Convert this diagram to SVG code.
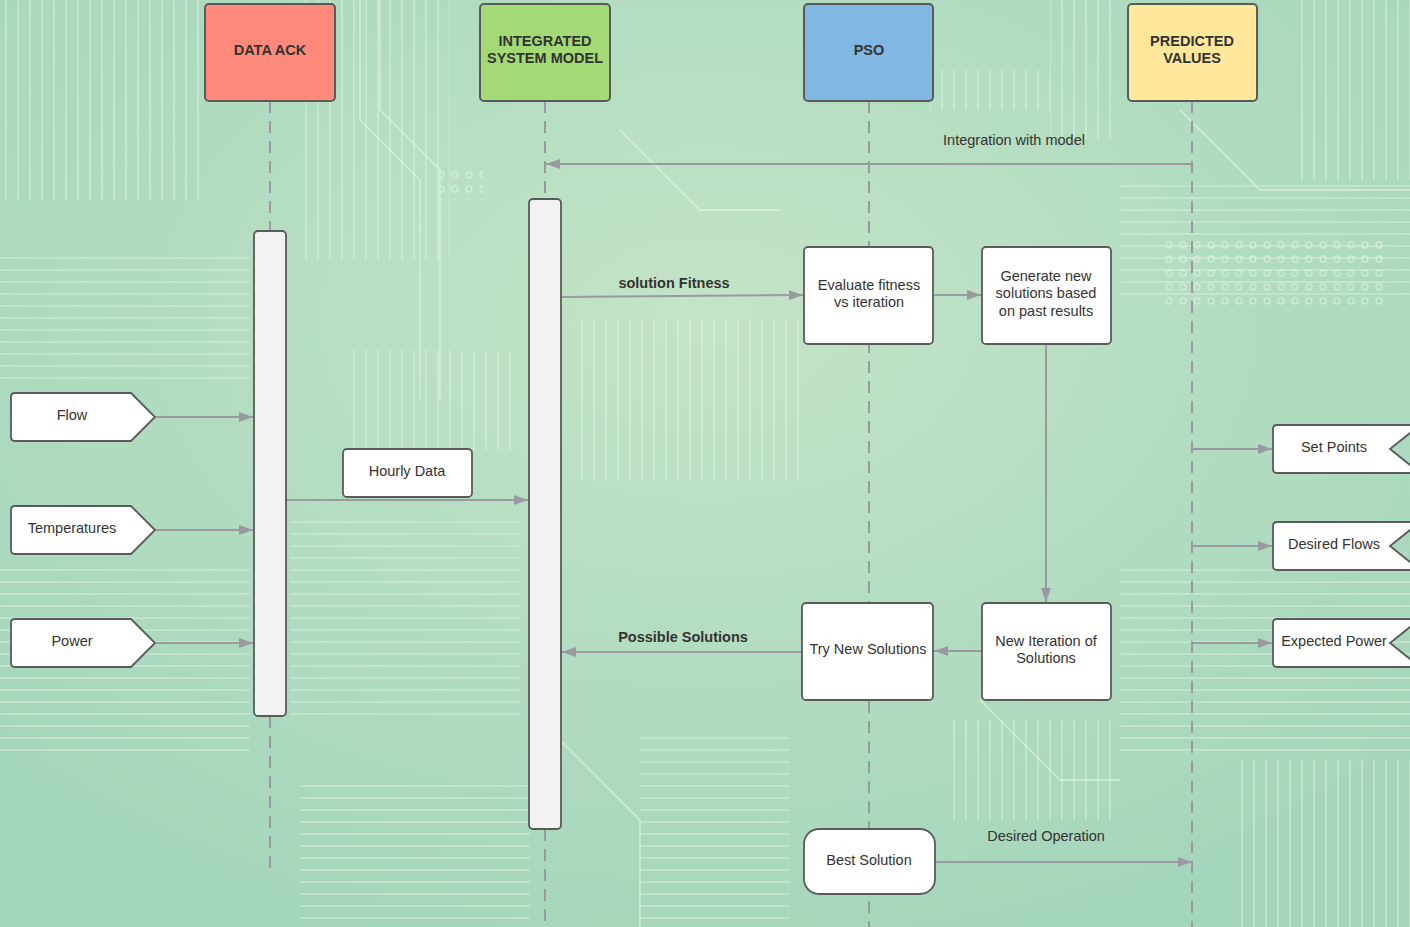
<svg xmlns="http://www.w3.org/2000/svg" width="1410" height="927" viewBox="0 0 1410 927">
<defs>
<radialGradient id="bg" cx="0.5" cy="0.35" r="0.75">
<stop offset="0" stop-color="#c4e4c6"/>
<stop offset="0.5" stop-color="#b2dcc0"/>
<stop offset="1" stop-color="#a2d5ba"/>
</radialGradient>
<pattern id="vtr" width="12" height="200" patternUnits="userSpaceOnUse">
<line x1="6" y1="0" x2="6" y2="200" stroke="#e4f4e2" stroke-width="1.6" opacity="0.55"/>
</pattern>
<pattern id="htr" width="200" height="12" patternUnits="userSpaceOnUse">
<line x1="0" y1="6" x2="200" y2="6" stroke="#e4f4e2" stroke-width="1.6" opacity="0.5"/>
</pattern>
<pattern id="dots" width="14" height="14" patternUnits="userSpaceOnUse">
<circle cx="7" cy="7" r="3" fill="none" stroke="#e6f5e4" stroke-width="1.4" opacity="0.6"/>
</pattern>
<marker id="ah" viewBox="0 0 14 10" refX="14" refY="5" markerWidth="14" markerHeight="10" markerUnits="userSpaceOnUse" orient="auto">
<path d="M0,0 L14,5 L0,10 Z" fill="#999aa0"/>
</marker>
<style>
.t{font-family:"Liberation Sans",Arial,sans-serif;font-size:14.5px;fill:#333;text-anchor:middle}
.h{font-family:"Liberation Sans",Arial,sans-serif;font-size:14.5px;font-weight:bold;fill:#333;text-anchor:middle}
.box{stroke:#5a5a5a;stroke-width:2}
.wb{fill:#fff;stroke:#5a5a5a;stroke-width:1.8}
.act{fill:#f2f2f2;stroke:#5a5a5a;stroke-width:1.8}
.life{stroke:#999aa0;stroke-width:2;stroke-dasharray:12 8;fill:none}
.msg{stroke:#999aa0;stroke-width:2;fill:none;marker-end:url(#ah)}
.bgl{stroke:#e2f3e0;stroke-width:1.8;fill:none;opacity:0.6}
</style>
</defs>

<g id="background">
<rect width="1410" height="927" fill="url(#bg)"/>
<rect x="0" y="0" width="200" height="200" fill="url(#vtr)"/>
<rect x="300" y="0" width="150" height="260" fill="url(#vtr)"/>
<rect x="930" y="70" width="120" height="40" fill="url(#vtr)"/>
<rect x="1050" y="0" width="70" height="140" fill="url(#vtr)"/>
<rect x="1300" y="0" width="110" height="180" fill="url(#vtr)"/>
<rect x="580" y="320" width="220" height="160" fill="url(#vtr)"/>
<rect x="350" y="350" width="170" height="100" fill="url(#vtr)"/>
<rect x="0" y="250" width="250" height="130" fill="url(#htr)"/>
<rect x="290" y="520" width="230" height="200" fill="url(#htr)"/>
<rect x="0" y="560" width="250" height="200" fill="url(#htr)"/>
<rect x="1120" y="560" width="290" height="200" fill="url(#htr)"/>
<rect x="1120" y="180" width="290" height="120" fill="url(#htr)"/>
<rect x="1160" y="240" width="230" height="70" fill="url(#dots)"/>
<rect x="440" y="170" width="44" height="30" fill="url(#dots)"/>
<rect x="640" y="730" width="150" height="197" fill="url(#htr)"/>
<rect x="950" y="720" width="170" height="100" fill="url(#vtr)"/>
<rect x="300" y="780" width="230" height="147" fill="url(#htr)"/>
<rect x="1240" y="760" width="170" height="167" fill="url(#vtr)"/>
<path class="bgl" d="M360,0 V120 L420,180 V400 M380,0 V110 L440,170 V400 M620,130 L700,210 H780 M1180,110 L1260,190 H1410 M560,740 L640,820 V927 M980,700 L1060,780 H1120"/>
</g>

<g id="connectors">
<line class="life" x1="270" y1="101" x2="270" y2="231"/>
<line class="life" x1="270" y1="716" x2="270" y2="870"/>
<line class="life" x1="545" y1="101" x2="545" y2="199"/>
<line class="life" x1="545" y1="829" x2="545" y2="927"/>
<line class="life" x1="869" y1="101" x2="869" y2="927"/>
<line class="life" x1="1192" y1="101" x2="1192" y2="927"/>
<line class="msg" x1="1192" y1="164" x2="546" y2="164"/>
<line class="msg" x1="562" y1="297" x2="803" y2="295"/>
<line class="msg" x1="934" y1="295" x2="981" y2="295"/>
<line class="msg" x1="1046" y1="345" x2="1046" y2="602"/>
<line class="msg" x1="981" y1="651" x2="934" y2="651"/>
<line class="msg" x1="802" y1="652" x2="562" y2="652"/>
<line class="msg" x1="935" y1="862" x2="1192" y2="862"/>
<line class="msg" x1="156" y1="417" x2="253" y2="417"/>
<line class="msg" x1="156" y1="530" x2="253" y2="530"/>
<line class="msg" x1="156" y1="643" x2="253" y2="643"/>
<line class="msg" x1="287" y1="500" x2="528" y2="500"/>
<line class="msg" x1="1192" y1="449" x2="1272" y2="449"/>
<line class="msg" x1="1192" y1="546" x2="1272" y2="546"/>
<line class="msg" x1="1192" y1="643" x2="1272" y2="643"/>
<text class="t" x="1014" y="145">Integration with model</text>
<text class="h" x="674" y="288">solution Fitness</text>
<text class="h" x="683" y="642">Possible Solutions</text>
<text class="t" x="1046" y="841">Desired Operation</text>
</g>

<g id="data-ack">
<rect class="box" x="205" y="4" width="130" height="97" rx="4" fill="#ff8a7b"/>
<text class="h" x="270" y="55">DATA ACK</text>
</g>
<g id="data-ack-activation">
<rect class="act" x="254" y="231" width="32" height="485" rx="4"/>
</g>
<g id="integrated-system-model">
<rect class="box" x="480" y="4" width="130" height="97" rx="4" fill="#a4da76"/>
<text class="h" x="545" y="46">INTEGRATED</text>
<text class="h" x="545" y="63">SYSTEM MODEL</text>
</g>
<g id="ism-activation">
<rect class="act" x="529" y="199" width="32" height="630" rx="4"/>
</g>
<g id="pso">
<rect class="box" x="804" y="4" width="129" height="97" rx="4" fill="#80b7e3"/>
<text class="h" x="869" y="55">PSO</text>
</g>
<g id="predicted-values">
<rect class="box" x="1128" y="4" width="129" height="97" rx="4" fill="#ffe89c"/>
<text class="h" x="1192" y="46">PREDICTED</text>
<text class="h" x="1192" y="63">VALUES</text>
</g>

<g id="flow">
<path class="wb" d="M15,393 H131 L155,417 L131,441 H15 Q11,441 11,437 V397 Q11,393 15,393 Z"/>
<text class="t" x="72" y="420">Flow</text>
</g>
<g id="temperatures">
<path class="wb" d="M15,506 H131 L155,530 L131,554 H15 Q11,554 11,550 V510 Q11,506 15,506 Z"/>
<text class="t" x="72" y="533">Temperatures</text>
</g>
<g id="power">
<path class="wb" d="M15,619 H131 L155,643 L131,667 H15 Q11,667 11,663 V623 Q11,619 15,619 Z"/>
<text class="t" x="72" y="646">Power</text>
</g>
<g id="hourly-data">
<rect class="wb" x="343" y="449" width="129" height="48" rx="4"/>
<text class="t" x="407" y="476">Hourly Data</text>
</g>

<g id="evaluate-fitness">
<rect class="wb" x="804" y="247" width="129" height="97" rx="4"/>
<text class="t" x="869" y="290">Evaluate fitness</text>
<text class="t" x="869" y="307">vs iteration</text>
</g>
<g id="generate-new">
<rect class="wb" x="982" y="247" width="129" height="97" rx="4"/>
<text class="t" x="1046" y="281">Generate new</text>
<text class="t" x="1046" y="298">solutions based</text>
<text class="t" x="1046" y="316">on past results</text>
</g>
<g id="new-iteration">
<rect class="wb" x="982" y="603" width="129" height="97" rx="4"/>
<text class="t" x="1046" y="646">New Iteration of</text>
<text class="t" x="1046" y="663">Solutions</text>
</g>
<g id="try-new-solutions">
<rect class="wb" x="802" y="603" width="131" height="97" rx="4"/>
<text class="t" x="868" y="654">Try New Solutions</text>
</g>
<g id="best-solution">
<rect class="wb" x="804" y="829" width="131" height="65" rx="15"/>
<text class="t" x="869" y="865">Best Solution</text>
</g>

<g id="set-points">
<path class="wb" d="M1277,425 H1420 L1390,449 L1420,473 H1277 Q1273,473 1273,469 V429 Q1273,425 1277,425 Z"/>
<text class="t" x="1334" y="452">Set Points</text>
</g>
<g id="desired-flows">
<path class="wb" d="M1277,522 H1420 L1390,546 L1420,570 H1277 Q1273,570 1273,566 V526 Q1273,522 1277,522 Z"/>
<text class="t" x="1334" y="549">Desired Flows</text>
</g>
<g id="expected-power">
<path class="wb" d="M1277,619 H1420 L1390,643 L1420,667 H1277 Q1273,667 1273,663 V623 Q1273,619 1277,619 Z"/>
<text class="t" x="1334" y="646">Expected Power</text>
</g>
</svg>
